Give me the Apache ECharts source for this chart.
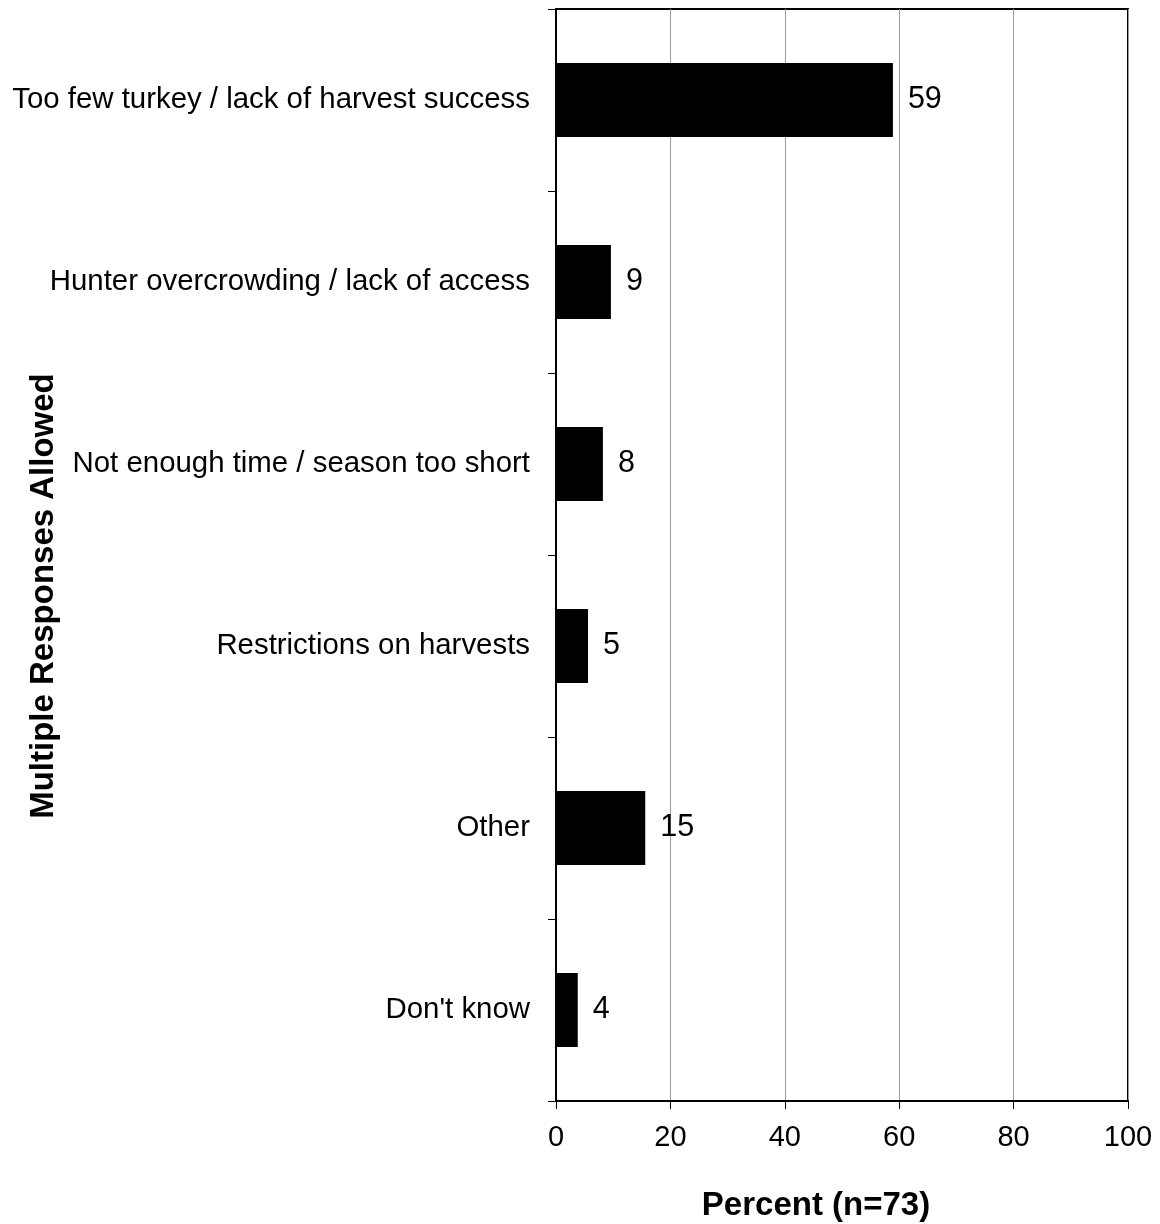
<!DOCTYPE html>
<html><head><meta charset="utf-8">
<script src="https://cdn.jsdelivr.net/npm/echarts@6/dist/echarts.min.js"></script>
<style>html,body{margin:0;padding:0;background:#fff}#c{width:1160px;height:1224px}</style>
</head><body><div id="c"></div>
<script>
const categories = ["Too few turkey / lack of harvest success","Hunter overcrowding / lack of access","Not enough time / season too short","Restrictions on harvests","Other","Don't know"];
const values = [58.9, 9.6, 8.2, 5.6, 15.6, 3.8];
const valueLabels = ["59","9","8","5","15","4"];
const xTicks = [0,20,40,60,80,100];
const xTitle = 'Percent (n=73)';
const yTitle = 'Multiple Responses Allowed';
const font = "'Liberation Sans', Arial, Helvetica, sans-serif";
const chart = echarts.init(document.getElementById('c'));
chart.setOption({
  animation:false,
  grid:{left:556, right:32, top:9, bottom:123, containLabel:false, outerBoundsMode:'none', show:true, borderColor:'#000', borderWidth:2, backgroundColor:'transparent'},
  graphic:[{type:'text', x:44, y:596, rotation:Math.PI/2,
    style:{text:yTitle, fontFamily:font, fontSize:33, fontWeight:'bold', fill:'#000', align:'center', verticalAlign:'middle'}}],
  xAxis:{type:'value', min:0, max:100, interval:20,
    name:xTitle, nameLocation:'middle', nameGap:88,
    nameTextStyle:{fontFamily:font, fontSize:33, fontWeight:'bold', color:'#000', padding:[0,52,0,0]},
    axisLine:{show:true, lineStyle:{color:'#000', width:2}},
    axisTick:{show:true, length:8, lineStyle:{color:'#000', width:1}},
    axisLabel:{fontFamily:font, fontSize:29, color:'#000', margin:22, formatter:v=>xTicks.includes(v)?String(v):''},
    splitLine:{show:true, lineStyle:{color:'#999', width:1}}},
  yAxis:{type:'category', data:categories, inverse:true,
    axisLine:{show:true, lineStyle:{color:'#000', width:2}},
    axisTick:{show:true, length:8, lineStyle:{color:'#000', width:1}},
    axisLabel:{fontFamily:font, fontSize:29.4, color:'#000', margin:26},
    splitLine:{show:false}},
  series:[{type:'bar', data:values, barWidth:74,
    itemStyle:{color:'#000'},
    label:{show:true, position:'right', distance:15, fontFamily:font, fontSize:30.5, color:'#000',
      formatter:p=>valueLabels[p.dataIndex]}}]
});
</script></body></html>
